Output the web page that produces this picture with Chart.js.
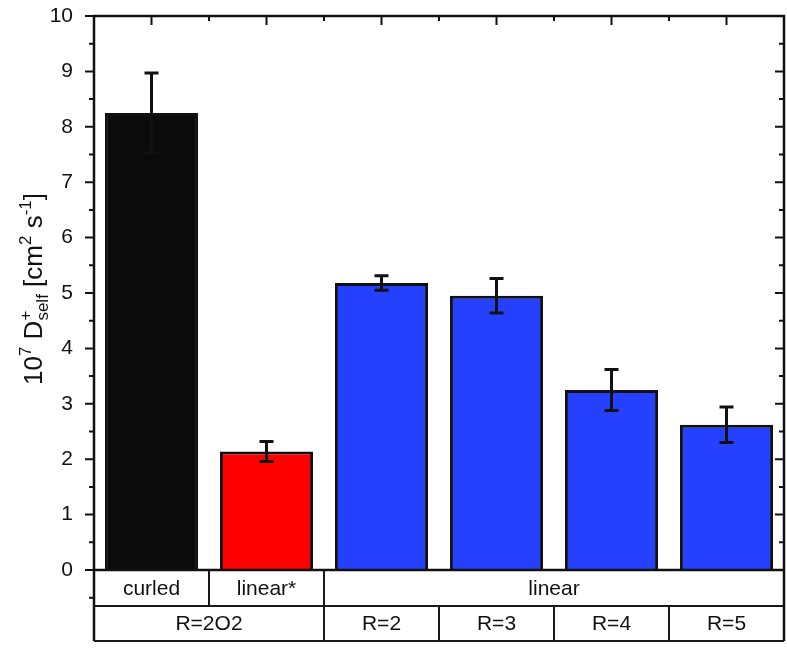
<!DOCTYPE html>
<html>
<head>
<meta charset="utf-8">
<script src="https://cdn.jsdelivr.net/npm/chart.js@4.4.0/dist/chart.umd.min.js"></script>
<style>
  html, body { margin: 0; padding: 0; background: #fff; }
  #wrap { width: 787px; height: 648px; }
</style>
</head>
<body>
<div id="wrap"><canvas id="chart"></canvas></div>
<script>
// data
const categories = ["curled", "linear*", "R=2", "R=3", "R=4", "R=5"];
const values = [8.25, 2.14, 5.18, 4.95, 3.25, 2.62];
const errors = [0.72, 0.18, 0.13, 0.31, 0.37, 0.32];
const barColors = ["#0b0b0b", "#fe0000", "#2541ff", "#2541ff", "#2541ff", "#2541ff"];
const yTicks = [0, 1, 2, 3, 4, 5, 6, 7, 8, 9, 10];

// two label rows under the axis: [text, first category, last category]
const tableRow1 = [["curled", 0, 0], ["linear*", 1, 1], ["linear", 2, 5]];
const tableRow2 = [["R=2O2", 0, 1], ["R=2", 2, 2], ["R=3", 3, 3], ["R=4", 4, 4], ["R=5", 5, 5]];

const FONT = "'Liberation Sans', Arial, sans-serif";

const extras = {
  id: "extras",
  afterDatasetsDraw(chart) {
    const { ctx, scales: { x, y } } = chart;
    ctx.save();
    ctx.strokeStyle = "#111";
    ctx.lineWidth = 3;
    values.forEach((v, i) => {
      const cx = x.getPixelForValue(i);
      const hi = y.getPixelForValue(v + errors[i]);
      const lo = y.getPixelForValue(v - errors[i]);
      ctx.beginPath();
      ctx.moveTo(cx, hi); ctx.lineTo(cx, lo);
      ctx.moveTo(cx - 7, hi); ctx.lineTo(cx + 7, hi);
      ctx.moveTo(cx - 7, lo); ctx.lineTo(cx + 7, lo);
      ctx.stroke();
    });
    ctx.restore();
  },
  afterDraw(chart) {
    const { ctx, scales: { x, y }, chartArea: a } = chart;
    const half = (x.getPixelForValue(1) - x.getPixelForValue(0)) / 2;
    const r1 = a.bottom + 36, r2 = a.bottom + 71;
    ctx.save();

    // table under the plot
    ctx.strokeStyle = "#1a1a1a";
    ctx.lineWidth = 2;
    ctx.fillStyle = "#111";
    ctx.font = "21px " + FONT;
    ctx.textAlign = "center";
    ctx.textBaseline = "middle";
    const drawRow = (row, top, bot) => {
      row.forEach(([txt, from, to]) => {
        const l = x.getPixelForValue(from) - half;
        const r = x.getPixelForValue(to) + half;
        ctx.beginPath();
        ctx.moveTo(l, top); ctx.lineTo(l, bot);
        ctx.moveTo(r, top); ctx.lineTo(r, bot);
        ctx.moveTo(l, bot); ctx.lineTo(r, bot);
        ctx.stroke();
        ctx.fillText(txt, (l + r) / 2, (top + bot) / 2 + 1);
      });
    };
    drawRow(tableRow1, a.bottom, r1);
    drawRow(tableRow2, r1, r2);

    // frame
    ctx.strokeStyle = "#111";
    ctx.lineWidth = 2.5;
    ctx.beginPath();
    ctx.moveTo(a.left, r2); ctx.lineTo(a.left, a.top); ctx.lineTo(a.right, a.top); ctx.lineTo(a.right, r2);
    ctx.moveTo(a.left, a.bottom); ctx.lineTo(a.right, a.bottom);
    ctx.stroke();

    // y ticks: left outward, right inward, majors + minors
    ctx.lineWidth = 2;
    ctx.beginPath();
    for (let v = -0.5; v <= 10; v += 0.5) {
      const py = y.getPixelForValue(v);
      const major = Number.isInteger(v);
      const len = major ? 9 : 5;
      ctx.moveTo(a.left - len, py); ctx.lineTo(a.left, py);
      if (v >= 0) { ctx.moveTo(a.right, py); ctx.lineTo(a.right - len, py); }
    }
    // top ticks inward: majors at bar centres, minors between
    categories.forEach((c, i) => {
      const px = x.getPixelForValue(i);
      ctx.moveTo(px, a.top); ctx.lineTo(px, a.top + 9);
      if (i > 0) { ctx.moveTo(px - half, a.top); ctx.lineTo(px - half, a.top + 5); }
    });
    ctx.stroke();

    // y axis title with super/subscripts, rotated
    const parts = [
      ["10", 0, 26], ["7", -11, 17], [" D", 0, 26], ["+", -11, 17], ["self", 6, 17],
      [" [cm", 0, 26], ["2", -11, 17], [" s", 0, 26], ["-1", -11, 17], ["]", 0, 26]
    ];
    ctx.translate(42, 289);
    ctx.rotate(-Math.PI / 2);
    ctx.textAlign = "left";
    ctx.textBaseline = "alphabetic";
    let total = 0;
    parts.forEach(([t, , s]) => { ctx.font = s + "px " + FONT; total += ctx.measureText(t).width; });
    ctx.font = "17px " + FONT;
    total -= ctx.measureText("+").width;
    let cx = -total / 2;
    parts.forEach(([t, dy, s]) => {
      ctx.font = s + "px " + FONT;
      // the subscript sits under the superscript "+"
      if (t === "self") cx -= ctx.measureText("+").width;
      ctx.fillText(t, cx, dy);
      cx += ctx.measureText(t).width;
    });
    ctx.restore();
  }
};

new Chart(document.getElementById("chart"), {
  type: "bar",
  data: {
    labels: categories,
    datasets: [{
      data: values,
      backgroundColor: barColors,
      borderColor: "#111",
      borderWidth: 3,
      borderSkipped: "bottom",
      barPercentage: 0.81,
      categoryPercentage: 1
    }]
  },
  options: {
    responsive: true,
    maintainAspectRatio: false,
    animation: false,
    layout: { padding: { left: 0, right: 3, top: 16, bottom: 78 } },
    plugins: { legend: { display: false }, tooltip: { enabled: false } },
    scales: {
      x: { display: false, offset: true },
      y: {
        min: 0, max: 10,
        afterFit(s) { s.width = 94; s.paddingTop = 0; s.paddingBottom = 0; },
        afterBuildTicks(s) { s.ticks = yTicks.map(v => ({ value: v })); },
        grid: { display: false },
        border: { display: false },
        ticks: { color: "#111", font: { family: FONT, size: 21 }, padding: 13 }
      }
    }
  },
  plugins: [extras]
});
</script>
</body>
</html>
